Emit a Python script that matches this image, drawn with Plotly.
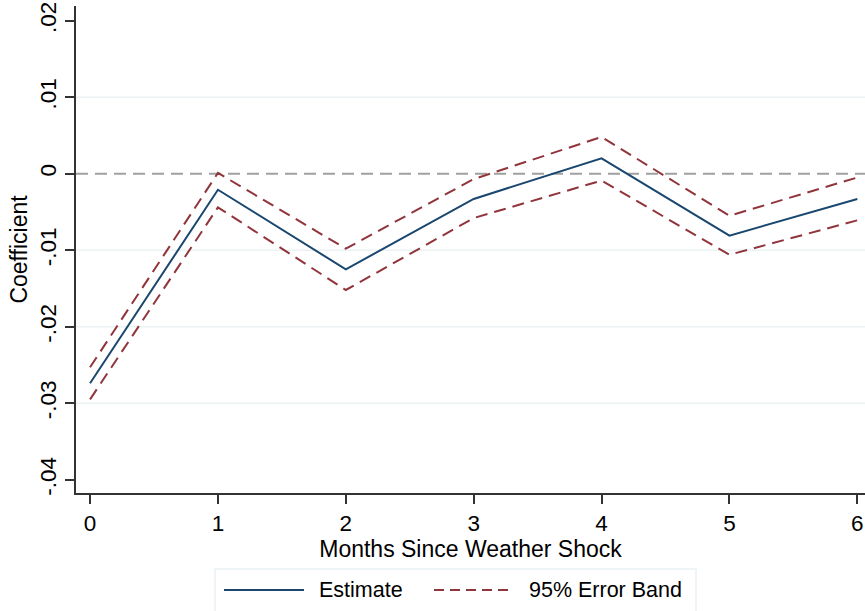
import plotly.graph_objects as go

# Event-study coefficients by months since the weather shock
months = [0, 1, 2, 3, 4, 5, 6]
estimate = [-0.0274, -0.0021, -0.0125, -0.0033, 0.0020, -0.0081, -0.0033]
upper_band = [-0.0253, 0.0001, -0.0098, -0.0007, 0.0048, -0.0055, -0.0005]
lower_band = [-0.0295, -0.0044, -0.0152, -0.0058, -0.0009, -0.0106, -0.0061]

y_ticks = [-0.04, -0.03, -0.02, -0.01, 0, 0.01, 0.02]
y_tick_labels = ["-.04", "-.03", "-.02", "-.01", "0", ".01", ".02"]
x_ticks = [0, 1, 2, 3, 4, 5, 6]

legend_labels = ["Estimate", "95% Error Band"]

NAVY = "#1a476f"
MAROON = "#90353b"
GRID = "#eaf2f3"
AXIS = "#333333"
FONT = "Liberation Sans, Arial, sans-serif"
FS_TICK = 22.5
FS_TITLE = 23
FS_LEGEND = 21.5

W, H = 865, 611
ML, MR, MT, MB = 76, 0, 6, 118
PW, PH = W - ML - MR, H - MT - MB


def px_x(px):
    """Canvas pixel column -> paper fraction."""
    return (px - ML) / PW


def px_y(py):
    """Canvas pixel row -> paper fraction."""
    return (H - MB - py) / PH


band_line = dict(color=MAROON, width=2, dash="12px,7px")

fig = go.Figure()
fig.add_trace(go.Scatter(x=months, y=estimate, mode="lines", name=legend_labels[0],
                         line=dict(color=NAVY, width=2)))
fig.add_trace(go.Scatter(x=months, y=upper_band, mode="lines", name=legend_labels[1],
                         line=band_line))
fig.add_trace(go.Scatter(x=months, y=lower_band, mode="lines", name=legend_labels[1],
                         line=band_line))

# interior gridlines (none at the axis ends)
for v in y_ticks[1:-1]:
    if v != 0:
        fig.add_hline(y=v, line=dict(color=GRID, width=1.5), layer="below")

# zero reference line
fig.add_hline(y=0, line=dict(color="#a0a0a0", width=2, dash="12px,7px"), layer="below")

# legend box below the plot, Stata style with long key lines
fig.add_shape(type="rect", xref="paper", yref="paper",
              x0=px_x(215), x1=px_x(696), y0=px_y(569), y1=px_y(630),
              line=dict(color=GRID, width=1.5), fillcolor="white", layer="below")
legend_y = px_y(590)
keys = [
    (224, 304, 317, dict(color=NAVY, width=2)),
    (434, 514, 527, dict(color=MAROON, width=2, dash="10px,6px")),
]
for label, (k0, k1, tx, style) in zip(legend_labels, keys):
    fig.add_shape(type="line", xref="paper", yref="paper",
                  x0=px_x(k0), x1=px_x(k1), y0=legend_y, y1=legend_y, line=style)
    fig.add_annotation(xref="paper", yref="paper", x=px_x(tx), y=legend_y,
                       text=label, showarrow=False, xanchor="left", yanchor="middle",
                       font=dict(size=FS_LEGEND))

fig.update_layout(
    width=W, height=H,
    margin=dict(l=ML, r=MR, t=MT, b=MB),
    paper_bgcolor="white", plot_bgcolor="white",
    font=dict(family=FONT, size=FS_TICK, color="#000000"),
    showlegend=False,
)

fig.update_xaxes(
    range=[-0.11, 6.06], tickvals=x_ticks,
    showgrid=False, zeroline=False,
    showline=True, linecolor=AXIS, linewidth=1.5,
    ticks="outside", ticklen=9, tickwidth=1.5, tickcolor=AXIS,
    tickfont=dict(size=FS_TICK),
    title=dict(text="Months Since Weather Shock", font=dict(size=FS_TITLE), standoff=1),
)
fig.update_yaxes(
    range=[-0.04174, 0.02192], tickvals=y_ticks, ticktext=y_tick_labels,
    tickangle=-90,
    showgrid=False, zeroline=False,
    showline=True, linecolor=AXIS, linewidth=1.5,
    ticks="outside", ticklen=9, tickwidth=1.5, tickcolor=AXIS,
    tickfont=dict(size=FS_TICK),
    title=dict(text="Coefficient", font=dict(size=FS_TITLE), standoff=2),
)

fig.write_html("out.html")
